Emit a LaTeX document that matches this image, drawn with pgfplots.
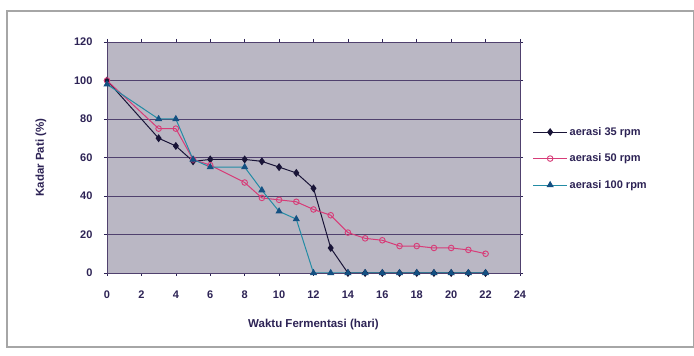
\documentclass[border=0pt]{standalone}
\usepackage{pgfplots}
\pgfplotsset{compat=1.18}
\usepackage{fontspec}
\setmainfont{Liberation Sans}
\definecolor{txt}{RGB}{45,35,85}
\definecolor{bg}{RGB}{186,183,196}
\definecolor{gridc}{RGB}{80,65,110}
\definecolor{sA}{RGB}{25,20,55}
\definecolor{sB}{RGB}{215,60,120}
\definecolor{sC}{RGB}{35,140,165}
\definecolor{sCm}{RGB}{20,80,130}
\begin{document}
\begin{tikzpicture}
\useasboundingbox (0pt,0pt) rectangle (694pt,356pt);
\fill[white] (0pt,0pt) rectangle (694pt,356pt);
\draw[gray!70, line width=1.2pt] (7pt,9pt) rectangle (694pt,345pt);
\begin{axis}[
  at={(107pt,83pt)}, anchor=south west,
  scale only axis, width=413pt, height=231pt,
  xmin=0, xmax=24, ymin=0, ymax=120,
  xtick={0,2,...,24}, ytick={0,20,...,120},
  /pgf/number format/assume math mode=true,
  axis background/.style={fill=bg},
  axis line style={draw=gridc, line width=0.8pt},
  ymajorgrids, major grid style={draw=gridc, line width=0.9pt},
  tick align=outside, major tick length=3pt,
  tick style={draw=txt, line width=0.6pt},
  ticklabel style={font=\bfseries\fontsize{11}{12}\selectfont, text=txt},
  xticklabel style={yshift=-11pt},
  yticklabel style={xshift=-8pt},
  xlabel={Waktu Fermentasi (hari)},
  ylabel={Kadar Pati (\%)},
  label style={font=\bfseries\fontsize{11.5}{12}\selectfont, text=txt},
  xlabel style={yshift=-14pt},
  ylabel style={yshift=21pt},
  legend style={at={(1.03,0.64)}, anchor=north west, draw=none, fill=none,
    font=\bfseries\fontsize{11}{12}\selectfont, text=txt, row sep=13pt, inner sep=0pt},
  legend cell align=left,
  legend image code/.code={\draw[mark repeat=2,mark phase=2,#1] plot coordinates {(0cm,0cm)(0.6cm,0cm)(1.2cm,0cm)};},
]
\addplot[sA, line width=1pt, mark=diamond*, mark size=3.2pt, mark options={fill=sA, draw=sA}] coordinates {
(0,100)(3,70)(4,66)(5,58)(6,59)(8,59)(9,58)(10,55)(11,52)(12,44)(13,13)(14,0)(15,0)(16,0)(17,0)(18,0)(19,0)(20,0)(21,0)(22,0)};
\addlegendentry{aerasi 35 rpm}
\addplot[sB, line width=1pt, mark=o, mark size=2.8pt, mark options={draw=sB, line width=0.9pt}] coordinates {
(0,100)(3,75)(4,75)(5,59)(6,56)(8,47)(9,39)(10,38)(11,37)(12,33)(13,30)(14,21)(15,18)(16,17)(17,14)(18,14)(19,13)(20,13)(21,12)(22,10)};
\addlegendentry{aerasi 50 rpm}
\addplot[sC, line width=1pt, mark=triangle*, mark size=3.2pt, mark options={fill=sCm, draw=sCm}] coordinates {
(0,98)(3,80)(4,80)(5,59)(6,55)(8,55)(9,43)(10,32)(11,28)(12,0)(13,0)(14,0)(15,0)(16,0)(17,0)(18,0)(19,0)(20,0)(21,0)(22,0)};
\addlegendentry{aerasi 100 rpm}
\end{axis}
\end{tikzpicture}
\end{document}
